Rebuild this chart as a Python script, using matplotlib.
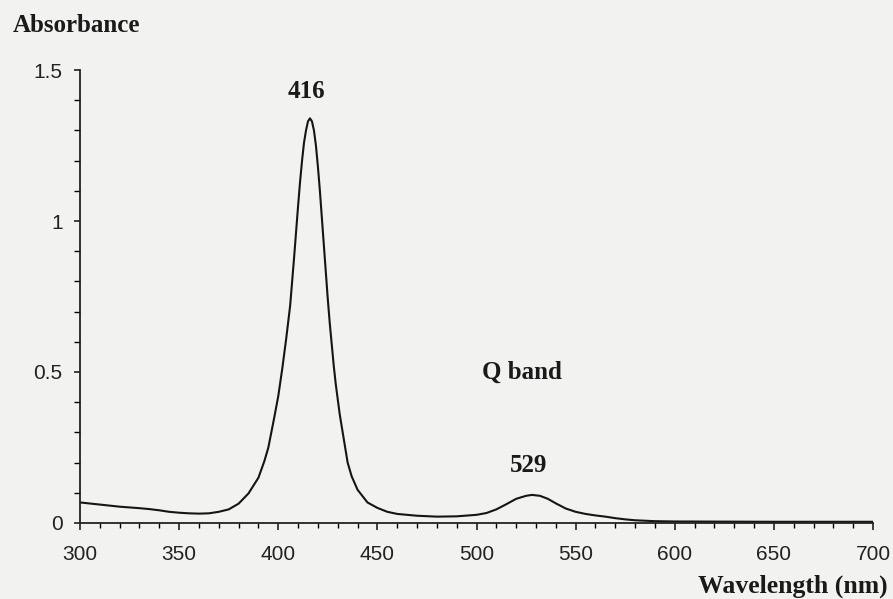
import matplotlib
matplotlib.use('Agg')
import matplotlib.pyplot as plt
from matplotlib.ticker import MultipleLocator

# spectrum
wavelength = [300, 310, 320, 330, 335, 340, 345, 350, 355, 360, 365, 370, 375,
              380, 385, 390, 393, 395, 398, 400, 402, 404, 406, 408, 410, 411,
              412, 413, 414, 415, 416, 417, 418, 419, 420, 421, 422, 423, 424,
              425, 426, 427, 428, 429, 430, 431, 433, 435, 437, 440, 445, 450,
              455, 460, 470, 480, 490, 500, 505, 510, 515, 520, 525, 528, 532,
              536, 540, 545, 550, 555, 560, 565, 570, 575, 580, 590, 600, 650,
              700]
absorbance = [0.068, 0.061, 0.054, 0.049, 0.046, 0.042, 0.037, 0.034, 0.032,
              0.031, 0.032, 0.037, 0.045, 0.064, 0.098, 0.15, 0.205, 0.25, 0.35,
              0.42, 0.51, 0.61, 0.72, 0.88, 1.05, 1.13, 1.20, 1.26, 1.30, 1.33,
              1.34, 1.33, 1.30, 1.25, 1.18, 1.10, 1.01, 0.92, 0.83, 0.74, 0.66,
              0.59, 0.52, 0.46, 0.41, 0.36, 0.28, 0.20, 0.155, 0.11, 0.068,
              0.05, 0.037, 0.03, 0.024, 0.021, 0.022, 0.027, 0.033, 0.045,
              0.062, 0.08, 0.09, 0.093, 0.09, 0.08, 0.065, 0.048, 0.037, 0.03,
              0.025, 0.021, 0.016, 0.012, 0.009, 0.006, 0.005, 0.004, 0.004]

peak_labels = ['416', '529', 'Q band']
peak_x = [414, 526.5, 523]
peak_y = [1.43, 0.19, 0.50]

bg = '#f2f2f0'
serif = ['Liberation Serif', 'DejaVu Serif']
plt.rcParams['font.family'] = ['Liberation Sans', 'DejaVu Sans']

fig = plt.figure(figsize=(8.93, 5.99), dpi=100, facecolor=bg)
ax = fig.add_axes([0.0896, 0.1269, 0.888, 0.7562], facecolor=bg)

ax.plot(wavelength, absorbance, color='#151515', linewidth=1.5)

ax.set_xlim(300, 700)
ax.set_ylim(0, 1.5)
ax.xaxis.set_major_locator(MultipleLocator(50))
ax.xaxis.set_minor_locator(MultipleLocator(10))
ax.yaxis.set_minor_locator(MultipleLocator(0.1))
ax.set_yticks([0, 0.5, 1, 1.5])
ax.set_yticklabels(['0', '0.5', '1', '1.5'])

for s in ['top', 'right']:
    ax.spines[s].set_visible(False)
for s in ['left', 'bottom']:
    ax.spines[s].set_linewidth(1.3)
    ax.spines[s].set_color('#222222')

ax.tick_params(axis='x', which='major', length=5, width=1.2, pad=11,
               labelsize=15, colors='#222222')
ax.tick_params(axis='x', which='minor', length=3.3, width=1.0)
ax.tick_params(axis='y', which='major', length=4.5, width=1.2, pad=8,
               labelsize=15, colors='#222222')
ax.tick_params(axis='y', which='minor', length=4, width=1.0)

for lab, x, y in zip(peak_labels, peak_x, peak_y):
    ax.text(x, y, lab, ha='center', va='center', fontsize=18,
            fontweight='bold', family=serif, color='#1a1a1a')

fig.text(13 / 893, 1 - 26 / 599, 'Absorbance', ha='left', va='center',
         fontsize=18, fontweight='bold', family=serif, color='#1a1a1a')
fig.text(888 / 893, 1 - 586 / 599, 'Wavelength (nm)', ha='right', va='center',
         fontsize=18.5, fontweight='bold', family=serif, color='#1a1a1a')

fig.savefig('out.png', dpi=100, facecolor=bg)
